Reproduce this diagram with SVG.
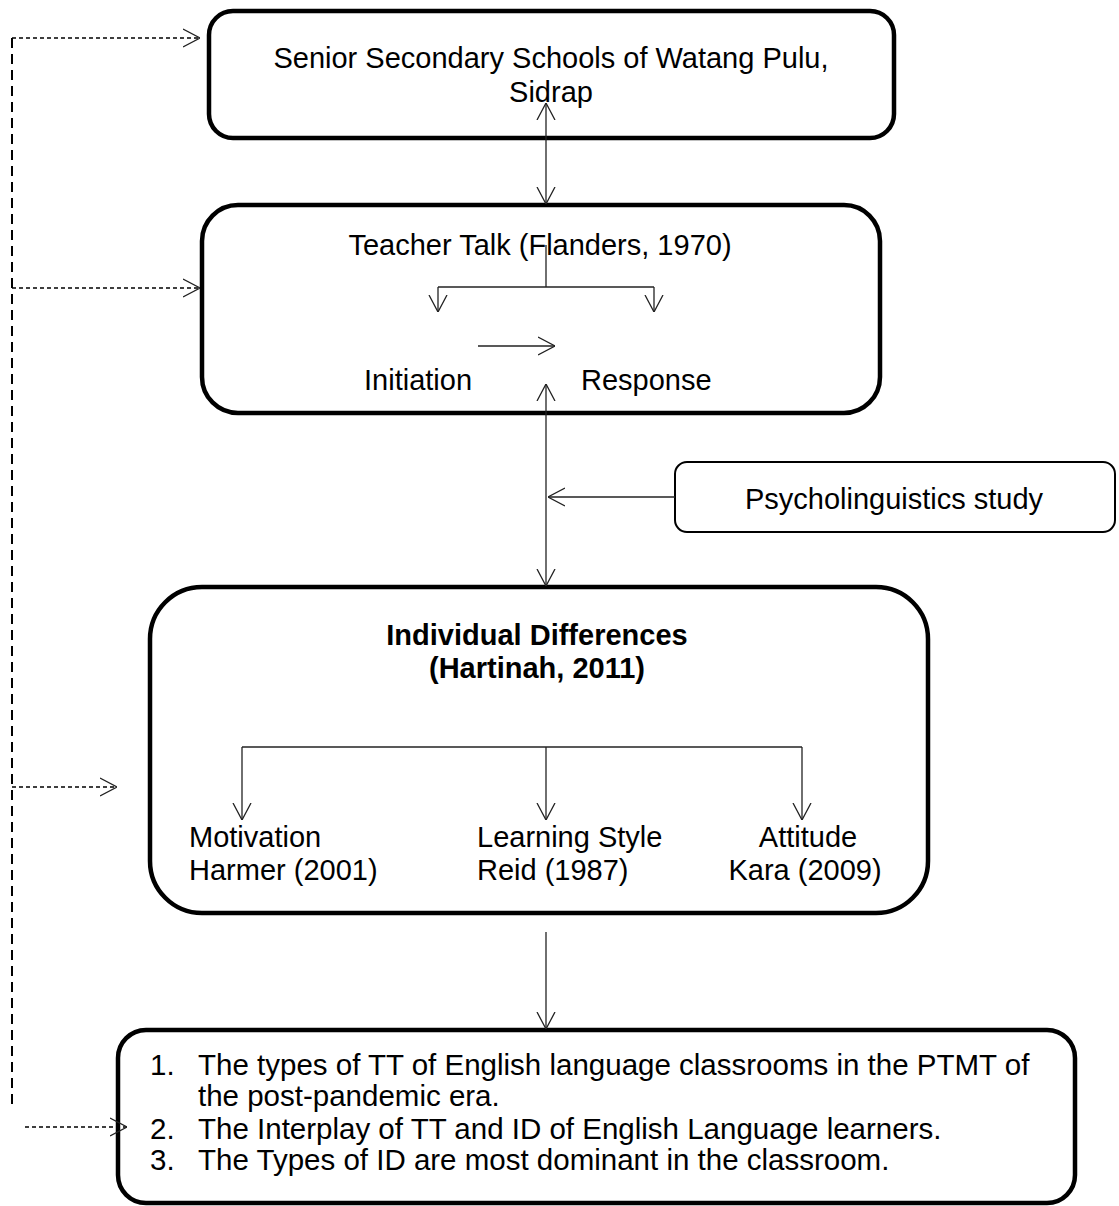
<svg xmlns="http://www.w3.org/2000/svg" width="1119" height="1206" viewBox="0 0 1119 1206">
<style>
  text { font-family: "Liberation Sans", Arial, sans-serif; font-size: 29px; fill: #000; }
  .b { font-weight: bold; }
  .mid { text-anchor: middle; }
  .box { fill: #fff; stroke: #000; stroke-width: 4.5; }
  .thin { fill: #fff; stroke: #000; stroke-width: 2; }
  .conn { fill: none; stroke: #222; stroke-width: 1.3; }
  .dash { fill: none; stroke: #000; stroke-width: 1.3; stroke-dasharray: 4 3; }
  .vdash { fill: none; stroke: #000; stroke-width: 2; stroke-dasharray: 10 6; }
</style>
<defs>
  <marker id="ah" viewBox="0 0 17 20" refX="17" refY="10" markerWidth="17" markerHeight="20" markerUnits="userSpaceOnUse" orient="auto-start-reverse">
    <path d="M0,1 L17,10 L0,19" fill="none" stroke="#222" stroke-width="1.3"/>
  </marker>
</defs>
<rect width="1119" height="1206" fill="#fff"/>

<g id="node-schools">
  <rect class="box" x="209" y="11" width="685" height="127" rx="24"/>
  <text class="mid" x="551" y="68">Senior Secondary Schools of Watang Pulu,</text>
  <text class="mid" x="551" y="102">Sidrap</text>
</g>

<g id="node-teacher-talk">
  <rect class="box" x="202" y="205" width="678" height="208" rx="36"/>
  <text class="mid" x="540" y="255">Teacher Talk (Flanders, 1970)</text>
  <text x="364" y="390">Initiation</text>
  <text x="581" y="390">Response</text>
</g>

<g id="node-psycholinguistics">
  <rect class="thin" x="675" y="462" width="440" height="70" rx="12"/>
  <text class="mid" x="894" y="509">Psycholinguistics study</text>
</g>

<g id="node-individual-differences">
  <rect class="box" x="150" y="587" width="778" height="326" rx="52"/>
  <text class="b mid" x="537" y="645">Individual Differences</text>
  <text class="b mid" x="537" y="678">(Hartinah, 2011)</text>
  <text x="189" y="847">Motivation</text>
  <text x="189" y="880">Harmer (2001)</text>
  <text x="477" y="847">Learning Style</text>
  <text x="477" y="880">Reid (1987)</text>
  <text class="mid" x="808" y="847">Attitude</text>
  <text class="mid" x="805" y="880">Kara (2009)</text>
</g>

<g id="node-research-questions">
  <rect class="box" x="118" y="1030" width="957" height="173" rx="28"/>
  <text x="150" y="1075" style="font-size:29.5px">1.</text>
  <text x="198" y="1075" style="font-size:29.5px">The types of TT of English language classrooms in the PTMT of</text>
  <text x="198" y="1106" style="font-size:29.5px">the post-pandemic era.</text>
  <text x="150" y="1139" style="font-size:29.5px">2.</text>
  <text x="198" y="1139" style="font-size:29.5px">The Interplay of TT and ID of English Language learners.</text>
  <text x="150" y="1170" style="font-size:29.5px">3.</text>
  <text x="198" y="1170" style="font-size:29.5px">The Types of ID are most dominant in the classroom.</text>
</g>

<g id="connectors">
  <!-- schools <-> teacher talk -->
  <path class="conn" d="M546,103 L546,204" marker-start="url(#ah)" marker-end="url(#ah)"/>
  <!-- teacher talk branching -->
  <path class="conn" d="M546,245 L546,287"/>
  <path class="conn" d="M438,287 L654,287"/>
  <path class="conn" d="M438,287 L438,312" marker-end="url(#ah)"/>
  <path class="conn" d="M654,287 L654,312" marker-end="url(#ah)"/>
  <!-- initiation -> response -->
  <path class="conn" d="M478,346 L555,346" marker-end="url(#ah)"/>
  <!-- teacher talk <-> individual differences -->
  <path class="conn" d="M546,384 L546,586" marker-start="url(#ah)" marker-end="url(#ah)"/>
  <!-- psycholinguistics -> line -->
  <path class="conn" d="M675,497 L548,497" marker-end="url(#ah)"/>
  <!-- ID branching -->
  <path class="conn" d="M242,747 L802,747"/>
  <path class="conn" d="M242,747 L242,820" marker-end="url(#ah)"/>
  <path class="conn" d="M546,747 L546,820" marker-end="url(#ah)"/>
  <path class="conn" d="M802,747 L802,820" marker-end="url(#ah)"/>
  <!-- ID -> research questions -->
  <path class="conn" d="M546,932 L546,1029" marker-end="url(#ah)"/>
  <!-- dashed feedback -->
  <path class="vdash" d="M12,38 L12,1105"/>
  <path class="dash" d="M12,38 L200,38" marker-end="url(#ah)"/>
  <path class="dash" d="M12,288 L200,288" marker-end="url(#ah)"/>
  <path class="dash" d="M12,787 L117,787" marker-end="url(#ah)"/>
  <path class="dash" d="M25,1127 L127,1127" marker-end="url(#ah)"/>
</g>
</svg>
